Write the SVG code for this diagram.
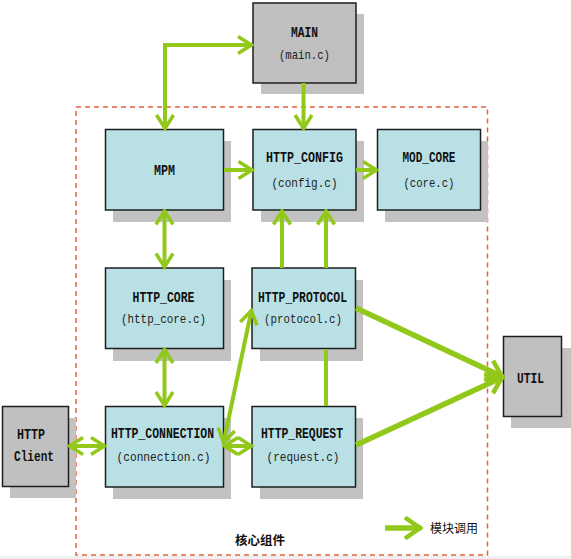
<svg xmlns="http://www.w3.org/2000/svg" width="571" height="559" viewBox="0 0 571 559">
<style>
.box{stroke:#1e1e1e;stroke-width:1.5}
.core{fill:#b9e1e5}
.ext{fill:#c0c0c0}
.sh{fill:#c2c2c2}
.t{font-family:"Liberation Mono",monospace;font-weight:bold;font-size:14px;fill:#111;text-anchor:middle}
.s{font-family:"Liberation Mono",monospace;font-size:13px;fill:#222;text-anchor:middle}
.c{fill:none;stroke:#92c81a;stroke-width:4}
.cw{fill:none;stroke:#92c81a;stroke-width:5.5}
.cn{font-family:"Noto Sans CJK SC",sans-serif;fill:#111}
</style>
<defs>
<marker id="ah" viewBox="0 0 18 22" refX="16" refY="11" markerWidth="18" markerHeight="22" markerUnits="userSpaceOnUse" orient="auto-start-reverse">
<path d="M2,2.5 L15.5,11 L2,19.5" fill="none" stroke="#92c81a" stroke-width="3.5"/>
</marker>
<marker id="ahw" viewBox="0 0 20 26" refX="18" refY="13" markerWidth="20" markerHeight="26" markerUnits="userSpaceOnUse" orient="auto">
<path d="M2,2.5 L17,13 L2,23.5" fill="none" stroke="#92c81a" stroke-width="4.5"/>
</marker>
</defs>
<rect x="0" y="0" width="571" height="559" fill="#ffffff"/>
<rect x="0" y="556" width="571" height="3" fill="#efefef"/>
<rect id="core-area" x="76" y="107" width="411.5" height="448" fill="none" stroke="#e8603c" stroke-width="1.5" stroke-dasharray="5,4"/>

<g id="main"><rect class="sh" x="261" y="14" width="103" height="80"/><rect class="box ext" x="253" y="3" width="103" height="80"/><text class="t" x="304.5" y="37" textLength="27" lengthAdjust="spacingAndGlyphs">MAIN</text><text class="s" x="304.5" y="59" textLength="51" lengthAdjust="spacingAndGlyphs">(main.c)</text></g>
<g id="mpm"><rect class="sh" x="113" y="141" width="118" height="81"/><rect class="box core" x="105.5" y="129.5" width="118" height="80.5"/><text class="t" x="164.5" y="175" textLength="21" lengthAdjust="spacingAndGlyphs">MPM</text></g>
<g id="http_config"><rect class="sh" x="261" y="141" width="103" height="81"/><rect class="box core" x="253" y="129.5" width="103" height="80.5"/><text class="t" x="304.5" y="162" textLength="77" lengthAdjust="spacingAndGlyphs">HTTP_CONFIG</text><text class="s" x="304.5" y="187" textLength="66" lengthAdjust="spacingAndGlyphs">(config.c)</text></g>
<g id="mod_core"><rect class="sh" x="385" y="141" width="103" height="81"/><rect class="box core" x="377.5" y="129.5" width="103" height="80.5"/><text class="t" x="429" y="162" textLength="53" lengthAdjust="spacingAndGlyphs">MOD_CORE</text><text class="s" x="429" y="187" textLength="51" lengthAdjust="spacingAndGlyphs">(core.c)</text></g>
<g id="http_core"><rect class="sh" x="113" y="280" width="118" height="81"/><rect class="box core" x="105.5" y="268" width="118" height="80.5"/><text class="t" x="163.5" y="302" textLength="62" lengthAdjust="spacingAndGlyphs">HTTP_CORE</text><text class="s" x="163.5" y="323" textLength="85" lengthAdjust="spacingAndGlyphs">(http_core.c)</text></g>
<g id="http_protocol"><rect class="sh" x="260" y="280" width="103" height="81"/><rect class="box core" x="252" y="268" width="103.5" height="80.5"/><text class="t" x="302.5" y="302" textLength="89" lengthAdjust="spacingAndGlyphs">HTTP_PROTOCOL</text><text class="s" x="303" y="323" textLength="78" lengthAdjust="spacingAndGlyphs">(protocol.c)</text></g>
<g id="util"><rect class="sh" x="511" y="348" width="60" height="80"/><rect class="box ext" x="503.5" y="336.5" width="58" height="80"/><text class="t" x="530.5" y="383" textLength="27" lengthAdjust="spacingAndGlyphs">UTIL</text></g>
<g id="http_client"><rect class="sh" x="10" y="418" width="66" height="80"/><rect class="box ext" x="2.5" y="406.5" width="66" height="80"/><text class="t" x="31" y="439" textLength="28" lengthAdjust="spacingAndGlyphs">HTTP</text><text class="t" x="34" y="461" textLength="40" lengthAdjust="spacingAndGlyphs">Client</text></g>
<g id="http_connection"><rect class="sh" x="113" y="418" width="118" height="81"/><rect class="box core" x="105.5" y="406.5" width="118" height="80.5"/><text class="t" x="162.5" y="438" textLength="103" lengthAdjust="spacingAndGlyphs">HTTP_CONNECTION</text><text class="s" x="163.5" y="461" textLength="94" lengthAdjust="spacingAndGlyphs">(connection.c)</text></g>
<g id="http_request"><rect class="sh" x="260" y="418" width="103" height="81"/><rect class="box core" x="252" y="406.5" width="103.5" height="80.5"/><text class="t" x="302" y="438" textLength="82" lengthAdjust="spacingAndGlyphs">HTTP_REQUEST</text><text class="s" x="303" y="461" textLength="73" lengthAdjust="spacingAndGlyphs">(request.c)</text></g>

<g id="connectors">
<path class="c" d="M165,129 V45 H252" marker-start="url(#ah)" marker-end="url(#ah)"/>
<path class="c" d="M303.5,83 V129" marker-end="url(#ah)"/>
<path class="c" d="M224,170 H252.5" marker-end="url(#ah)"/>
<path class="c" d="M356,170 H377" marker-end="url(#ah)"/>
<path class="c" d="M164.5,210.5 V267.5" marker-start="url(#ah)" marker-end="url(#ah)"/>
<path class="c" d="M282,268 V210.5" marker-end="url(#ah)"/>
<path class="c" d="M326,268 V210.5" marker-end="url(#ah)"/>
<path class="c" d="M164.5,349 V406" marker-start="url(#ah)" marker-end="url(#ah)"/>
<path class="c" d="M326,349 V406"/>
<path class="c" d="M223.5,443 L251.5,310" marker-start="url(#ah)" marker-end="url(#ah)"/>
<path class="c" d="M69,446 H105" marker-start="url(#ah)" marker-end="url(#ah)"/>
<path class="c" d="M224,446 H252" marker-start="url(#ah)" marker-end="url(#ah)"/>
<path class="cw" d="M356,308 L503,377" marker-end="url(#ahw)"/>
<path class="cw" d="M356,445 L503,377" marker-end="url(#ahw)"/>
</g>
<g id="legend">
<path class="cw" d="M385,528 H421" marker-end="url(#ahw)"/>
<text class="cn" x="430" y="532.5" font-size="12">模块调用</text>
</g>
<text class="cn" x="260" y="545" font-size="12.5" font-weight="bold" text-anchor="middle">核心组件</text>
</svg>
